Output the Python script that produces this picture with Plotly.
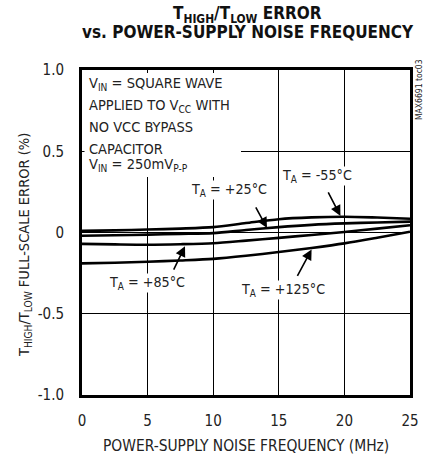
import plotly.graph_objects as go

# ---- data ----
freq_mhz = [0, 2.5, 5, 7.5, 10, 12.5, 15, 17.5, 20, 22.5, 25]
err_m55 = [0.010, 0.013, 0.018, 0.024, 0.033, 0.058, 0.082, 0.093, 0.097, 0.092, 0.085]
err_p25 = [-0.020, -0.017, -0.013, -0.009, -0.004, 0.015, 0.033, 0.047, 0.056, 0.062, 0.067]
err_p85 = [-0.070, -0.073, -0.075, -0.072, -0.066, -0.050, -0.033, -0.015, 0.003, 0.024, 0.045]
err_p125 = [-0.190, -0.186, -0.180, -0.172, -0.162, -0.143, -0.120, -0.095, -0.067, -0.032, 0.005]

x_ticks = [0, 5, 10, 15, 20, 25]
x_tick_labels = ["0", "5", "10", "15", "20", "25"]
y_ticks = [-1.0, -0.5, 0, 0.5, 1.0]
y_tick_labels = ["-1.0", "-0.5", "0", "0.5", "1.0"]

series = [("T<sub>A</sub> = -55°C", err_m55),
          ("T<sub>A</sub> = +25°C", err_p25),
          ("T<sub>A</sub> = +85°C", err_p85),
          ("T<sub>A</sub> = +125°C", err_p125)]

condition_lines = ["V<sub>IN</sub> = SQUARE WAVE",
                   "APPLIED TO V<sub>CC</sub> WITH",
                   "NO VCC BYPASS",
                   "CAPACITOR",
                   "V<sub>IN</sub> = 250mV<sub>P-P</sub>"]

FONT = "Liberation Sans Narrow, DejaVu Sans Condensed, Arial Narrow, sans-serif"
TXT = "#222222"

fig = go.Figure()
for name, ys in series:
    fig.add_trace(go.Scatter(x=freq_mhz, y=ys, mode="lines", name=name,
                             line=dict(color="black", width=2.6, shape="spline", smoothing=0.8),
                             showlegend=False, hoverinfo="skip"))

W, H = 432, 460
L, R, T, B = 82, 22, 70, 65

def px(xp):
    return (xp - L) / (W - L - R)

def py(yp):
    return (H - B - yp) / (H - T - B)

# white panel behind the condition text (hides gridlines like the reference)
fig.add_shape(type="rect", xref="paper", yref="paper",
              x0=px(84.5), x1=px(241), y0=py(177), y1=py(73),
              fillcolor="white", line=dict(width=0), layer="above")

anns = []
# title
anns.append(dict(text="<b>T<sub>HIGH</sub>/T<sub>LOW</sub> ERROR</b>", xref="paper", yref="paper",
                 x=px(247), y=py(15), showarrow=False, xanchor="center", yanchor="middle",
                 font=dict(family=FONT, size=17, color="#111")))
anns.append(dict(text="<b>vs. POWER-SUPPLY NOISE FREQUENCY</b>", xref="paper", yref="paper",
                 x=px(248), y=py(32), showarrow=False, xanchor="center", yanchor="middle",
                 font=dict(family=FONT, size=17, color="#111")))
# y axis title
anns.append(dict(text="T<sub>HIGH</sub>/T<sub>LOW</sub> FULL-SCALE ERROR (%)", xref="paper", yref="paper",
                 x=px(25), y=py(245), showarrow=False, textangle=-90, xanchor="center", yanchor="middle",
                 font=dict(family=FONT, size=14.5, color=TXT)))
# x axis title
anns.append(dict(text="POWER-SUPPLY NOISE FREQUENCY (MHz)", xref="paper", yref="paper",
                 x=px(246), y=py(446), showarrow=False, xanchor="center", yanchor="middle",
                 font=dict(family=FONT, size=15.4, color=TXT)))
# condition text, one line per annotation to control spacing
line_y = [84, 105.5, 127, 148.5, 165]
for txt, yy in reversed(list(zip(condition_lines, line_y))):
    anns.append(dict(text=txt, xref="paper", yref="paper", x=px(87), y=py(yy), showarrow=False,
                     xanchor="left", yanchor="middle", align="left",
                     font=dict(family=FONT, size=14.5, color=TXT)))
# figure id
anns.append(dict(text="MAX6691 toc03", xref="paper", yref="paper", x=px(419), y=py(90),
                 showarrow=False, textangle=-90, xanchor="center", yanchor="middle",
                 font=dict(family=FONT, size=8.5, color=TXT)))

# curve labels (text) and arrows
labels = [
    ("T<sub>A</sub> = -55°C", 17.9, 0.345, 19.7, 0.102, -13, -25),
    ("T<sub>A</sub> = +25°C", 11.2, 0.262, 14.1, 0.028, -12, -22),
    ("T<sub>A</sub> = +85°C", 4.95, -0.31, 7.85, -0.084, -12, 25),
    ("T<sub>A</sub> = +125°C", 15.3, -0.354, 17.5, -0.104, -15, 28),
]
for text, tx, ty, ax_tip, ay_tip, dx, dy in labels:
    anns.append(dict(text=text, x=tx, y=ty, xref="x", yref="y", showarrow=False,
                     xanchor="center", yanchor="middle", bgcolor="white", borderpad=0,
                     font=dict(family=FONT, size=14.2, color=TXT)))
    anns.append(dict(text="", x=ax_tip, y=ay_tip, xref="x", yref="y", showarrow=True,
                     ax=dx, ay=dy, arrowhead=2, arrowsize=1.3, arrowwidth=1.6,
                     arrowcolor="black", standoff=0, startstandoff=0))

fig.update_layout(
    width=W, height=H,
    margin=dict(l=L, r=R, t=T, b=B),
    paper_bgcolor="white", plot_bgcolor="white",
    annotations=anns,
    xaxis=dict(range=[0, 25], tickvals=x_ticks, ticktext=x_tick_labels,
               showgrid=True, gridcolor="black", gridwidth=1, zeroline=False,
               showline=True, linecolor="black", linewidth=3, mirror=True,
               ticks="", ticklabelstandoff=10,
               tickfont=dict(family=FONT, size=15, color=TXT)),
    yaxis=dict(range=[-1, 1], tickvals=y_ticks, ticktext=y_tick_labels,
               showgrid=True, gridcolor="black", gridwidth=1, zeroline=False,
               showline=True, linecolor="black", linewidth=3, mirror=True,
               ticks="", ticklabelstandoff=12,
               tickfont=dict(family=FONT, size=15, color=TXT)),
)

fig.write_html("out.html", config={"displayModeBar": False},
               post_script="document.body.style.margin='0';")
